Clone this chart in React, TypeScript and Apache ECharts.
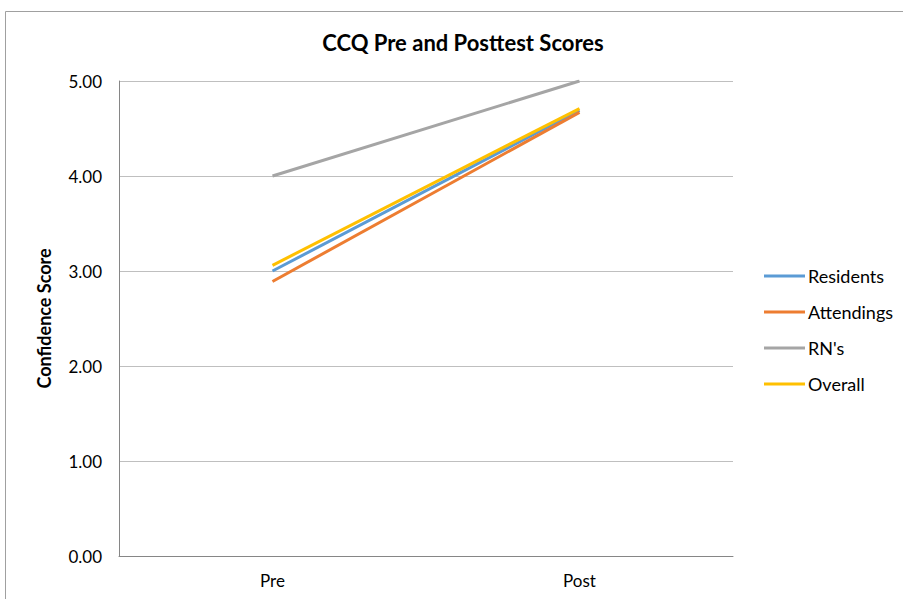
import React, { useEffect, useRef } from "react";
import * as echarts from "echarts";

const categories = ["Pre", "Post"];
const residents = [3.0, 4.69];
const attendings = [2.89, 4.67];
const rns = [4.0, 5.0];
const overall = [3.06, 4.71];
const seriesNames = ["Residents", "Attendings", "RN's", "Overall"];
const colors = ["#5B9BD5", "#ED7D31", "#A5A5A5", "#FFC000"];

const FONT = "Lato, 'Open Sans', sans-serif";

export default function App() {
  const ref = useRef<HTMLDivElement>(null);
  useEffect(() => {
    document.body.style.margin = "0";
    const chart = echarts.init(ref.current!, null, { renderer: "svg" });
    const data = [residents, attendings, rns, overall];
    chart.setOption({
      animation: false,
      backgroundColor: "#ffffff",
      title: {
        text: "CCQ Pre and Posttest Scores",
        left: 458,
        top: 26,
        textAlign: "center",
        textStyle: { fontFamily: FONT, fontSize: 22, fontWeight: "bold", color: "#000" },
      },
      legend: {
        orient: "vertical",
        left: 759,
        top: 261,
        itemWidth: 41,
        itemHeight: 3,
        itemGap: 16,
        icon: "rect",
        data: seriesNames,
        textStyle: { fontFamily: FONT, fontSize: 18, color: "#000", lineHeight: 20, padding: [0, 0, 0, -2] },
      },
      grid: { left: 119, right: 170, top: 81, bottom: 43, containLabel: false },
      xAxis: {
        type: "category",
        data: categories,
        boundaryGap: true,
        axisLine: { lineStyle: { color: "#868686", width: 1 } },
        axisTick: { show: false },
        axisLabel: { fontFamily: FONT, fontSize: 17, color: "#000", margin: 16 },
      },
      yAxis: {
        type: "value",
        min: 0,
        max: 5,
        interval: 1,
        name: "Confidence Score",
        nameLocation: "middle",
        nameGap: 66,
        nameTextStyle: { fontFamily: FONT, fontSize: 18, fontWeight: "bold", color: "#000" },
        axisLine: { show: true, lineStyle: { color: "#868686", width: 1 } },
        axisTick: { show: false },
        axisLabel: {
          fontFamily: FONT,
          fontSize: 17,
          color: "#000",
          margin: 17,
          formatter: (v: number) => v.toFixed(2),
        },
        splitLine: { lineStyle: { color: "#BFBFBF", width: 1 } },
      },
      series: seriesNames.map((name, i) => ({
        name,
        type: "line",
        data: data[i],
        symbol: "none",
        lineStyle: { color: colors[i], width: 3 },
        itemStyle: { color: colors[i] },
        z: i === 2 ? 2 : 3,
      })),
      graphic: [
        {
          type: "polyline",
          shape: { points: [[5.5, 599], [5.5, 11.5], [903, 11.5]] },
          style: { stroke: "#A0A0A0", lineWidth: 1, fill: "none" },
          silent: true,
        },
      ],
    });
    return () => chart.dispose();
  }, []);
  return <div ref={ref} style={{ width: 903, height: 599 }} />;
}
